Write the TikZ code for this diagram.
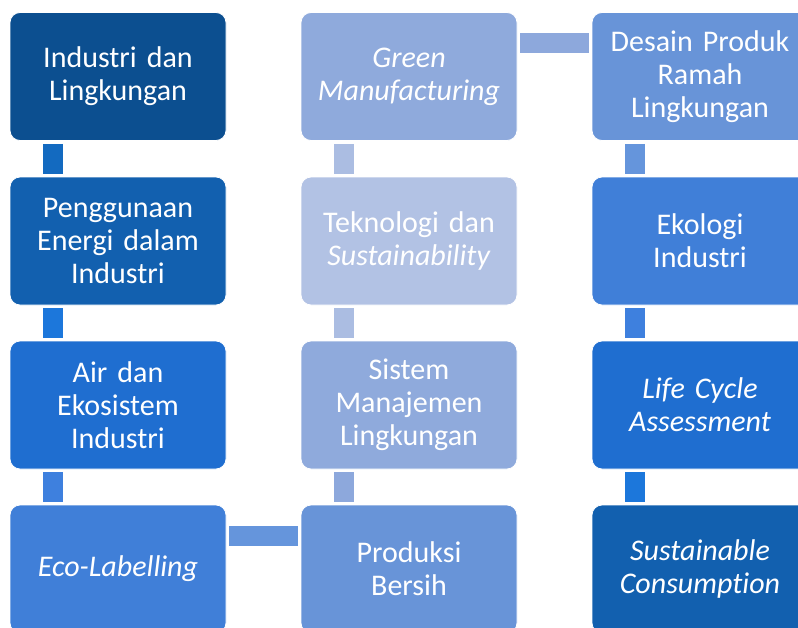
\documentclass[tikz,border=0pt]{standalone}
\usepackage{fontspec}
\setmainfont{Carlito}[WordSpace=0.75, RawFeature=-liga]
\begin{document}
\definecolor{c1}{HTML}{0C4F90}
\definecolor{c2}{HTML}{1260AF}
\definecolor{c3}{HTML}{1F6ED0}
\definecolor{c4}{HTML}{407FD8}
\definecolor{c5}{HTML}{6894D8}
\definecolor{c6}{HTML}{8FAADC}
\definecolor{c7}{HTML}{B2C2E4}
\definecolor{k1}{HTML}{136AC0}
\definecolor{k2}{HTML}{1C77DB}
\definecolor{k3}{HTML}{3E80DE}
\definecolor{k4}{HTML}{6595DC}
\definecolor{k5}{HTML}{8DA8DC}
\definecolor{k6}{HTML}{ABBDE2}
\begin{tikzpicture}[x=1pt,y=-1pt,
  box/.style={draw=white, line width=0.8pt, rounded corners=10pt,
    minimum width=216pt, minimum height=128pt, inner sep=0pt,
    text width=210pt, align=center, text=white,
    font=\fontsize{30pt}{33pt}\selectfont},
  link/.style={line width=20pt, line cap=butt}]
\useasboundingbox (0,0) rectangle (798,627);
\clip (0,0) rectangle (798,627);
% first column, top to bottom
\node[box, fill=c1] (b1) at (118,76.5) {Industri dan\\Lingkungan};
\node[box, fill=c2] (b2) at (118,241) {Penggunaan\\Energi dalam\\Industri};
\node[box, fill=c3] (b3) at (118,405) {Air dan\\Ekosistem\\Industri};
\node[box, fill=c4] (b4) at (118,569) {\itshape Eco-Labelling};
% second column, bottom to top
\node[box, fill=c5] (b5) at (409,569) {Produksi\\Bersih};
\node[box, fill=c6] (b6) at (409,405) {Sistem\\Manajemen\\Lingkungan};
\node[box, fill=c7] (b7) at (409,241) {Teknologi dan\\\textit{Sustainability}};
\node[box, fill=c6] (b8) at (409,76.5) {\itshape Green\\Manufacturing};
% third column, top to bottom
\node[box, fill=c5] (b9) at (700,76.5) {Desain Produk\\Ramah\\Lingkungan};
\node[box, fill=c4] (b10) at (700,241) {Ekologi\\Industri};
\node[box, fill=c3] (b11) at (700,405) {\itshape Life Cycle\\Assessment};
\node[box, fill=c2] (b12) at (700,569) {\itshape Sustainable\\Consumption};
% connecting bars
\draw[link, k1] ([xshift=43pt,yshift=-3pt]b1.south west) -- ([xshift=43pt,yshift=3pt]b2.north west);
\draw[link, k2] ([xshift=43pt,yshift=-3pt]b2.south west) -- ([xshift=43pt,yshift=3pt]b3.north west);
\draw[link, k3] ([xshift=43pt,yshift=-3pt]b3.south west) -- ([xshift=43pt,yshift=3pt]b4.north west);
\draw[link, k4] ([xshift=3pt,yshift=-31pt]b4.north east) -- ([xshift=-3pt,yshift=-31pt]b5.north west);
\draw[link, k5] ([xshift=43pt,yshift=3pt]b5.north west) -- ([xshift=43pt,yshift=-3pt]b6.south west);
\draw[link, k6] ([xshift=43pt,yshift=3pt]b6.north west) -- ([xshift=43pt,yshift=-3pt]b7.south west);
\draw[link, k6] ([xshift=43pt,yshift=3pt]b7.north west) -- ([xshift=43pt,yshift=-3pt]b8.south west);
\draw[link, k5] ([xshift=3pt,yshift=-31pt]b8.north east) -- ([xshift=-3pt,yshift=-31pt]b9.north west);
\draw[link, k4] ([xshift=43pt,yshift=-3pt]b9.south west) -- ([xshift=43pt,yshift=3pt]b10.north west);
\draw[link, k3] ([xshift=43pt,yshift=-3pt]b10.south west) -- ([xshift=43pt,yshift=3pt]b11.north west);
\draw[link, k2] ([xshift=43pt,yshift=-3pt]b11.south west) -- ([xshift=43pt,yshift=3pt]b12.north west);
\end{tikzpicture}
\end{document}
